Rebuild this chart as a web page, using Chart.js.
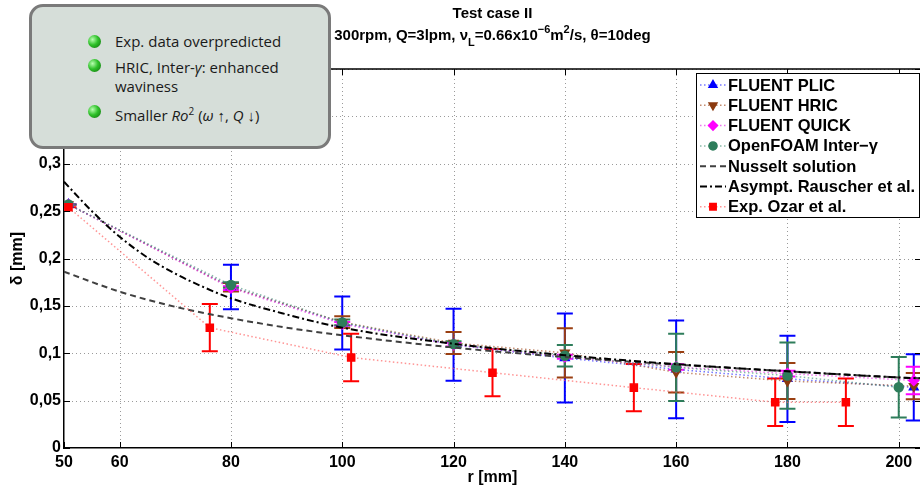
<!DOCTYPE html>
<html>
<head>
<meta charset="utf-8">
<script src="https://cdn.jsdelivr.net/npm/chart.js@4.4.0/dist/chart.umd.min.js"></script>
<style>
  html, body { margin: 0; padding: 0; background: #fff; overflow: hidden; }
  #wrap { position: relative; width: 930px; height: 487px; }
  #note {
    position: absolute; left: 29px; top: 4px; width: 302px; height: 145px;
    box-sizing: border-box; border: 3px solid #7a7a7a; border-radius: 14px;
    background: #d6ded9; font-family: 'Open Sans', sans-serif; font-size: 15px; color: #1a1a1a;
  }
  #note .item { position: absolute; left: 83px; line-height: 19px; }
  #note .dot {
    position: absolute; left: 56px; width: 13px; height: 13px; border-radius: 50%;
    background: radial-gradient(circle at 35% 35%, #b8ffb0 0%, #2fc12a 45%, #0a6a08 100%);
  }
</style>
</head>
<body>
<div id="wrap">
  <canvas id="grafico" width="930" height="487"></canvas>
  <div id="note">
    <div class="dot" style="top:28px"></div>
    <div class="item" style="top:25px">Exp. data overpredicted</div>
    <div class="dot" style="top:52px"></div>
    <div class="item" style="top:51px">HRIC, Inter-<i>γ</i>: enhanced<br>waviness</div>
    <div class="dot" style="top:98px"></div>
    <div class="item" style="top:95px">Smaller <i>Ro</i><sup style="font-size:10px">2</sup> (<i>ω</i> ↑, <i>Q</i> ↓)</div>
  </div>
</div>
<script>
// datos
const xTicks = [50, 60, 80, 100, 120, 140, 160, 180, 200];

const simX = [50.8, 80, 100, 120, 140, 160, 180, 202.7];
const foamX = [50.8, 80, 100, 120, 140, 160, 180, 200];

const plicY = [0.257, 0.170, 0.132, 0.109, 0.095, 0.083, 0.073, 0.064];
const plicErr = [0, 0.0235, 0.028, 0.038, 0.047, 0.0515, 0.0455, 0.035];

const hricY = [0.257, 0.1696, 0.1328, 0.1108, 0.1004, 0.0799, 0.0707, 0.0653];
const hricErr = [0, 0.0045, 0.0062, 0.0115, 0.026, 0.0214, 0.0189, 0.0138];

const quickY = [0.257, 0.1688, 0.131, 0.109, 0.0963, 0.0855, 0.0785, 0.0713];
const quickErr = [0, 0.002, 0.002, 0.002, 0.002, 0.003, 0.003, 0.0145];

const foamY = [0.257, 0.172, 0.1325, 0.1096, 0.0973, 0.0851, 0.0764, 0.0641];
const foamErr = [0, 0.003, 0.003, 0.003, 0.0113, 0.0354, 0.0349, 0.032];

const nusX = [50, 60, 70, 80, 90, 100, 120, 140, 160, 180, 200, 204];
const nusY = [0.186, 0.165, 0.149, 0.137, 0.127, 0.119, 0.106, 0.096, 0.088, 0.081, 0.0745, 0.0735];

const rauX = [50, 55, 60, 65, 70, 75, 80, 90, 100, 120, 140, 160, 180, 200, 204];
const rauY = [0.281, 0.250, 0.223, 0.201, 0.184, 0.170, 0.158, 0.141, 0.127, 0.110, 0.098, 0.0885, 0.081, 0.0745, 0.0735];

const expX = [50.8, 76.2, 101.6, 127, 152.4, 177.8, 190.5];
const expY = [0.254, 0.127, 0.0955, 0.0795, 0.0637, 0.0483, 0.0483];
const expErr = [0, 0.025, 0.025, 0.025, 0.025, 0.025, 0.025];

const fuente = "Arial, 'Liberation Sans', Helvetica, sans-serif";

function puntos(xs, ys) {
  return xs.map((x, i) => ({ x: x, y: ys[i] }));
}

// rejilla punteada
const rejilla = {
  id: "rejilla",
  beforeDatasetsDraw(chart) {
    const ctx = chart.ctx;
    const a = chart.chartArea;
    const xs = chart.scales.x, ys = chart.scales.y;
    ctx.save();
    ctx.strokeStyle = "#9a9a9a";
    ctx.lineWidth = 1;
    ctx.setLineDash([1, 3]);
    ctx.beginPath();
    xs.ticks.forEach((t) => {
      const px = Math.round(xs.getPixelForValue(t.value)) + 0.5;
      if (px <= a.left + 1) return;
      ctx.moveTo(px, a.bottom); ctx.lineTo(px, a.top);
    });
    ys.ticks.forEach((t) => {
      const py = Math.round(ys.getPixelForValue(t.value)) + 0.5;
      if (py >= a.bottom - 1) return;
      ctx.moveTo(a.left, py); ctx.lineTo(a.right, py);
    });
    ctx.stroke();
    ctx.restore();
  }
};

// barras de error (con tapas), recortadas al area de ejes
const barrasError = {
  id: "barrasError",
  beforeDatasetsDraw(chart) {
    const ctx = chart.ctx;
    const a = chart.chartArea;
    const ys = chart.scales.y;
    ctx.save();
    ctx.beginPath();
    ctx.rect(a.left, a.top, a.right - a.left, a.bottom - a.top);
    ctx.clip();
    chart.data.datasets.forEach((ds, i) => {
      if (!ds.err) return;
      const meta = chart.getDatasetMeta(i);
      ctx.strokeStyle = ds.errColor;
      ctx.lineWidth = 2;
      meta.data.forEach((p, j) => {
        const t = ys.getPixelForValue(ds.data[j].y + ds.err[j]);
        const b = ys.getPixelForValue(ds.data[j].y - ds.err[j]);
        ctx.beginPath();
        ctx.moveTo(p.x, t); ctx.lineTo(p.x, b);
        ctx.moveTo(p.x - 8, t); ctx.lineTo(p.x + 8, t);
        ctx.moveTo(p.x - 8, b); ctx.lineTo(p.x + 8, b);
        ctx.stroke();
      });
    });
    ctx.restore();
  }
};

// marco y marcas hacia adentro (estilo matlab)
const marco = {
  id: "marco",
  afterDatasetsDraw(chart) {
    const ctx = chart.ctx;
    const a = chart.chartArea;
    const xs = chart.scales.x, ys = chart.scales.y;
    ctx.save();
    ctx.strokeStyle = "#000";
    ctx.lineWidth = 1.5;
    ctx.beginPath();
    ctx.moveTo(a.left, a.top); ctx.lineTo(a.right, a.top); ctx.lineTo(a.right, a.bottom);
    ctx.stroke();
    ctx.lineWidth = 1;
    ctx.beginPath();
    xs.ticks.forEach((t) => {
      const px = Math.round(xs.getPixelForValue(t.value)) + 0.5;
      ctx.moveTo(px, a.bottom); ctx.lineTo(px, a.bottom - 6);
      ctx.moveTo(px, a.top); ctx.lineTo(px, a.top + 6);
    });
    ys.ticks.forEach((t) => {
      const py = Math.round(ys.getPixelForValue(t.value)) + 0.5;
      ctx.moveTo(a.left, py); ctx.lineTo(a.left + 6, py);
      ctx.moveTo(a.right, py); ctx.lineTo(a.right - 6, py);
    });
    ctx.stroke();
    ctx.restore();
  }
};

// leyenda dentro de los ejes, arriba a la derecha
const leyenda = {
  id: "leyenda",
  afterDraw(chart) {
    const ctx = chart.ctx;
    const x0 = 696, y0 = 73, w = 224, h = 145;
    ctx.save();
    ctx.fillStyle = "#fff";
    ctx.fillRect(x0, y0, w, h);
    ctx.strokeStyle = "#000";
    ctx.lineWidth = 1;
    ctx.strokeRect(x0 + 0.5, y0 + 0.5, w - 1, h - 1);
    chart.data.datasets.forEach((ds, i) => {
      const y = y0 + 12 + i * 20.3;
      ctx.strokeStyle = ds.borderColor;
      ctx.lineWidth = ds.borderWidth;
      ctx.setLineDash(ds.borderDash || []);
      ctx.beginPath();
      ctx.moveTo(x0 + 4, y); ctx.lineTo(x0 + 30, y);
      ctx.stroke();
      ctx.setLineDash([]);
      if (ds.pointRadius > 0) {
        ctx.fillStyle = ds.pointBackgroundColor;
        ctx.strokeStyle = ds.pointBorderColor;
        Chart.helpers.drawPoint(ctx, {
          pointStyle: ds.pointStyle, radius: ds.pointRadius - 0.5,
          rotation: ds.pointRotation || 0, borderWidth: 1
        }, x0 + 17, y);
      }
      ctx.fillStyle = "#000";
      ctx.font = "bold 16.5px " + fuente;
      ctx.textBaseline = "middle";
      ctx.textAlign = "left";
      ctx.fillText(ds.label, x0 + 32, y + 1);
    });
    ctx.restore();
  }
};

// titulo de dos lineas con sub/superindices
const titulo = {
  id: "titulo",
  afterDraw(chart) {
    const ctx = chart.ctx;
    const a = chart.chartArea;
    const cx = (a.left + a.right) / 2;
    ctx.save();
    ctx.fillStyle = "#000";
    ctx.textBaseline = "alphabetic";
    ctx.font = "bold 15px " + fuente;
    ctx.textAlign = "center";
    ctx.fillText("Test case II", cx, 18);
    const partes = [
      ["300rpm, Q=3lpm, ", 0], ["ν", 0], ["L", -1], ["=0.66x10", 0], ["−6", 1],
      ["m", 0], ["2", 1], ["/s, ", 0], ["θ", 0], ["=10deg", 0]
    ];
    const fNormal = "bold 15px " + fuente;
    const fChica = "bold 11px " + fuente;
    let total = 0;
    partes.forEach((p) => {
      ctx.font = p[1] === 0 ? fNormal : fChica;
      total += ctx.measureText(p[0]).width;
    });
    let x = cx - total / 2;
    ctx.textAlign = "left";
    const base = 40;
    partes.forEach((p) => {
      ctx.font = p[1] === 0 ? fNormal : fChica;
      const dy = p[1] === 1 ? -7 : p[1] === -1 ? 6 : 0;
      ctx.fillText(p[0], x, base + dy);
      x += ctx.measureText(p[0]).width;
    });
    ctx.restore();
  }
};

const ctx = document.getElementById("grafico").getContext("2d");
const grafico = new Chart(ctx, {
  type: "line",
  data: {
    datasets: [
      {
        label: "FLUENT PLIC", data: puntos(simX, plicY), err: plicErr, errColor: "#0000ff",
        borderColor: "rgba(60,60,255,0.7)", borderWidth: 1.5, borderDash: [1.5, 2.5],
        pointStyle: "triangle", pointRadius: 5, pointBackgroundColor: "#0000ff", pointBorderColor: "#0000ff",
        order: 6
      },
      {
        label: "FLUENT HRIC", data: puntos(simX, hricY), err: hricErr, errColor: "#9a3f12",
        borderColor: "rgba(170,90,50,0.7)", borderWidth: 1.5, borderDash: [1.5, 2.5],
        pointStyle: "triangle", pointRotation: 180, pointRadius: 5,
        pointBackgroundColor: "#8b3a0f", pointBorderColor: "#8b3a0f",
        order: 5
      },
      {
        label: "FLUENT QUICK", data: puntos(simX, quickY), err: quickErr, errColor: "#ff00ff",
        borderColor: "rgba(230,60,230,0.7)", borderWidth: 1.5, borderDash: [1.5, 2.5],
        pointStyle: "rectRot", pointRadius: 5, pointBackgroundColor: "#ff00ff", pointBorderColor: "#ff00ff",
        order: 4
      },
      {
        label: "OpenFOAM Inter−γ", data: puntos(foamX, foamY), err: foamErr, errColor: "#2e7d5b",
        borderColor: "rgba(60,140,110,0.6)", borderWidth: 1.5, borderDash: [1.5, 2.5],
        pointStyle: "circle", pointRadius: 4.5, pointBackgroundColor: "#2e7d5b", pointBorderColor: "#2e7d5b",
        order: 3
      },
      {
        label: "Nusselt solution", data: puntos(nusX, nusY),
        borderColor: "#404040", borderWidth: 2, borderDash: [6, 4],
        pointRadius: 0, cubicInterpolationMode: "monotone",
        order: 2
      },
      {
        label: "Asympt. Rauscher et al.", data: puntos(rauX, rauY),
        borderColor: "#000", borderWidth: 2, borderDash: [7, 3, 2, 3],
        pointRadius: 0, cubicInterpolationMode: "monotone",
        order: 1
      },
      {
        label: "Exp. Ozar et al.", data: puntos(expX, expY), err: expErr, errColor: "#ff0000",
        borderColor: "rgba(255,90,90,0.65)", borderWidth: 1.5, borderDash: [1.5, 2.5],
        pointStyle: "rect", pointRadius: 5, pointBackgroundColor: "#ff0000", pointBorderColor: "#ff0000",
        order: 0
      }
    ]
  },
  options: {
    responsive: false,
    animation: false,
    layout: { padding: { top: 69, right: 9, left: 0, bottom: 0 } },
    plugins: { legend: { display: false }, tooltip: { enabled: false } },
    scales: {
      x: {
        type: "linear", min: 50, max: 204,
        afterBuildTicks: (s) => { s.ticks = xTicks.map((v) => ({ value: v })); },
        afterFit: (s) => { s.height = 39; },
        grid: { display: false, drawTicks: false },
        border: { display: true, color: "#000", width: 1.5 },
        ticks: { color: "#000", font: { family: fuente, size: 16, weight: "bold" }, padding: 5, maxRotation: 0, autoSkip: false },
        title: { display: true, text: "r [mm]", color: "#000", font: { family: fuente, size: 16, weight: "bold" }, padding: { top: 0, bottom: 0 } }
      },
      y: {
        min: 0, max: 0.4,
        afterFit: (s) => { s.width = 64; },
        grid: { display: false, drawTicks: false },
        border: { display: true, color: "#000", width: 1.5 },
        ticks: {
          stepSize: 0.05, color: "#000", padding: 3,
          font: { family: fuente, size: 16, weight: "bold" },
          callback: (v) => String(parseFloat(v.toFixed(2))).replace(".", ",")
        },
        title: { display: true, text: "δ [mm]", color: "#000", font: { family: fuente, size: 16, weight: "bold" }, padding: { top: 8, bottom: 0 } }
      }
    }
  },
  plugins: [rejilla, barrasError, marco, leyenda, titulo]
});
</script>
</body>
</html>
